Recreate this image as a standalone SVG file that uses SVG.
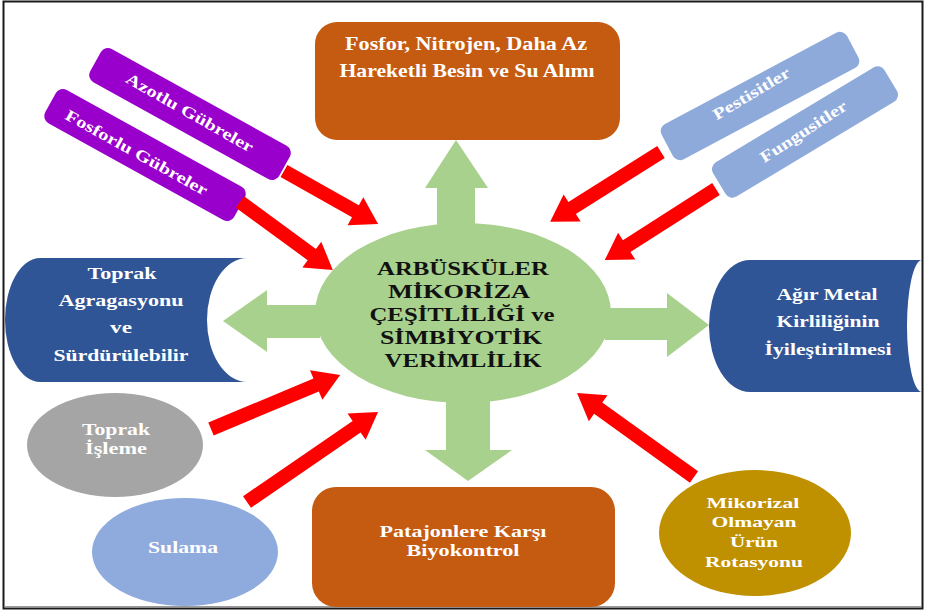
<svg xmlns="http://www.w3.org/2000/svg" width="928" height="613" viewBox="0 0 928 613">
  <style>
    .t { font-family: "Liberation Serif", "Times New Roman", serif; font-weight: bold; text-anchor: middle; }
    .w { fill: #ffffff; }
    .k { fill: #111111; }
    .red { fill: #ff0000; }
    .green { fill: #a9d18e; }
    .purple { fill: #9900cc; }
    .lblue { fill: #8eaadb; }
    .dblue { fill: #2f5597; }
    .orange { fill: #c55a11; }
  </style>

  <rect x="0" y="0" width="928" height="613" fill="#ffffff"/>
  <!-- outer frame -->
  <rect x="3.5" y="1.5" width="919" height="607" fill="none" stroke="#1a1a1a" stroke-width="2"/>
  <line x1="4" y1="606.5" x2="922" y2="606.5" stroke="#9a9a9a" stroke-width="1"/>

  <!-- connectors: green outgoing arrows and red incoming arrows -->
  <g id="connectors">
    <polygon class="green" points="437,240 437,188 425,188 456,140 488,188 475,188 475,240"/>
    <polygon class="green" points="446,390 446,450 425,450 468,481 512,450 490,450 490,390"/>
    <polygon class="green" points="320,305 267,305 267,290 223,321 267,352 267,338 320,338"/>
    <polygon class="green" points="605,308 667,308 667,293 709,325 667,357 667,340 605,340"/>
  </g>

  <!-- central node -->
  <g id="center">
    <ellipse cx="463" cy="313" rx="148" ry="90" class="green"/>
    <text class="t k" font-size="18" x="463" y="275" textLength="172" lengthAdjust="spacingAndGlyphs">ARBÜSKÜLER</text>
    <text class="t k" font-size="18" x="459" y="298" textLength="142" lengthAdjust="spacingAndGlyphs">MİKORİZA</text>
    <text class="t k" font-size="18" x="462" y="321" textLength="185" lengthAdjust="spacingAndGlyphs">ÇEŞİTLİLİĞİ ve</text>
    <text class="t k" font-size="18" x="461" y="344" textLength="162" lengthAdjust="spacingAndGlyphs">SİMBİYOTİK</text>
    <text class="t k" font-size="18" x="463" y="367" textLength="157" lengthAdjust="spacingAndGlyphs">VERİMLİLİK</text>
  </g>

  <g id="fosfor-nitrojen">
    <rect x="315" y="22" width="305" height="118" rx="22" class="orange"/>
    <text class="t w" font-size="19" x="466" y="50" textLength="242" lengthAdjust="spacingAndGlyphs">Fosfor, Nitrojen, Daha Az</text>
    <text class="t w" font-size="19" x="467" y="77" textLength="255" lengthAdjust="spacingAndGlyphs">Hareketli Besin ve Su Alımı</text>
  </g>

  <g id="azotlu">
    <rect x="-108" y="-19" width="216" height="38" rx="8" class="purple" transform="translate(190,114) rotate(29)"/>
    <text class="t w" font-size="16" x="0" y="6" textLength="144" lengthAdjust="spacingAndGlyphs" transform="translate(190,112) rotate(29.5)">Azotlu Gübreler</text>
  </g>

  <g id="fosforlu">
    <rect x="-108" y="-19" width="216" height="38" rx="8" class="purple" transform="translate(145,155) rotate(29)"/>
    <text class="t w" font-size="16" x="0" y="6" textLength="160" lengthAdjust="spacingAndGlyphs" transform="translate(137,152) rotate(29)">Fosforlu Gübreler</text>
  </g>

  <g id="pestisitler">
    <rect x="-105" y="-20" width="210" height="40" rx="8" class="lblue" transform="translate(760,96) rotate(-28)"/>
    <text class="t w" font-size="16" x="0" y="6" textLength="87" lengthAdjust="spacingAndGlyphs" transform="translate(751,93) rotate(-31)">Pestisitler</text>
  </g>

  <g id="fungusitler">
    <rect x="-100" y="-20" width="200" height="40" rx="8" class="lblue" transform="translate(805,132) rotate(-31)"/>
    <text class="t w" font-size="16" x="0" y="6" textLength="100" lengthAdjust="spacingAndGlyphs" transform="translate(803,131) rotate(-33)">Fungusitler</text>
  </g>

  <g id="toprak-agregasyonu">
    <path class="dblue" d="M 247 258 H 40 A 35 62 0 0 0 40 382 H 247 A 40 62 0 0 1 247 258 Z"/>
    <text class="t w" font-size="17" x="122" y="279" textLength="69" lengthAdjust="spacingAndGlyphs">Toprak</text>
    <text class="t w" font-size="17" x="121" y="306" textLength="125" lengthAdjust="spacingAndGlyphs">Agragasyonu</text>
    <text class="t w" font-size="17" x="121" y="333" textLength="22" lengthAdjust="spacingAndGlyphs">ve</text>
    <text class="t w" font-size="17" x="121" y="361" textLength="135" lengthAdjust="spacingAndGlyphs">Sürdürülebilir</text>
  </g>

  <g id="agir-metal">
    <path class="dblue" d="M 922 260 H 750 A 41 66 0 0 0 750 392 H 922 A 15 66 0 0 1 922 260 Z"/>
    <text class="t w" font-size="17" x="827" y="300" textLength="101" lengthAdjust="spacingAndGlyphs">Ağır Metal</text>
    <text class="t w" font-size="17" x="828" y="327" textLength="103" lengthAdjust="spacingAndGlyphs">Kirliliğinin</text>
    <text class="t w" font-size="17" x="828" y="355" textLength="127" lengthAdjust="spacingAndGlyphs">İyileştirilmesi</text>
  </g>

  <g id="toprak-isleme">
    <ellipse cx="115" cy="445" rx="88" ry="52" fill="#a5a5a5"/>
    <text class="t w" font-size="16" x="116" y="435" textLength="68" lengthAdjust="spacingAndGlyphs">Toprak</text>
    <text class="t w" font-size="16" x="116" y="454" textLength="62" lengthAdjust="spacingAndGlyphs">İşleme</text>
  </g>

  <g id="sulama">
    <ellipse cx="185" cy="552" rx="93" ry="54" fill="#8faadc"/>
    <text class="t w" font-size="16" x="183" y="553" textLength="70" lengthAdjust="spacingAndGlyphs">Sulama</text>
  </g>

  <g id="patojen-biyokontrol">
    <rect x="312" y="487" width="303" height="120" rx="24" class="orange"/>
    <text class="t w" font-size="17" x="463" y="537" textLength="167" lengthAdjust="spacingAndGlyphs">Patajonlere Karşı</text>
    <text class="t w" font-size="17" x="463" y="556" textLength="113" lengthAdjust="spacingAndGlyphs">Biyokontrol</text>
  </g>

  <g id="urun-rotasyonu">
    <ellipse cx="755" cy="533" rx="96" ry="63" fill="#bf9000"/>
    <text class="t w" font-size="15" x="753" y="508" textLength="93" lengthAdjust="spacingAndGlyphs">Mikorizal</text>
    <text class="t w" font-size="15" x="754" y="527" textLength="85" lengthAdjust="spacingAndGlyphs">Olmayan</text>
    <text class="t w" font-size="15" x="754" y="547" textLength="48" lengthAdjust="spacingAndGlyphs">Ürün</text>
    <text class="t w" font-size="15" x="754" y="567" textLength="98" lengthAdjust="spacingAndGlyphs">Rotasyonu</text>
  </g>

  <!-- red block arrows pointing into the central node -->
  <g id="inputs">
    <polygon class="red" transform="translate(284,171) rotate(29.4)" points="0,-7 82,-7 82,-16 108,0 82,16 82,7 0,7"/>
    <polygon class="red" transform="translate(240,202) rotate(36.2)" points="0,-7 89,-7 89,-16 115,0 89,16 89,7 0,7"/>
    <polygon class="red" transform="translate(661,152) rotate(147.8)" points="0,-7 105,-7 105,-16 131,0 105,16 105,7 0,7"/>
    <polygon class="red" transform="translate(716,189) rotate(147.4)" points="0,-7 106,-7 106,-16 132,0 106,16 106,7 0,7"/>
    <polygon class="red" transform="translate(211,429) rotate(-22.7)" points="0,-7 114,-7 114,-16 140,0 114,16 114,7 0,7"/>
    <polygon class="red" transform="translate(247,502) rotate(-34.5)" points="0,-7 133,-7 133,-16 159,0 133,16 133,7 0,7"/>
    <polygon class="red" transform="translate(694,477) rotate(-144.3)" points="0,-7 118,-7 118,-16 144,0 118,16 118,7 0,7"/>
  </g>
</svg>
